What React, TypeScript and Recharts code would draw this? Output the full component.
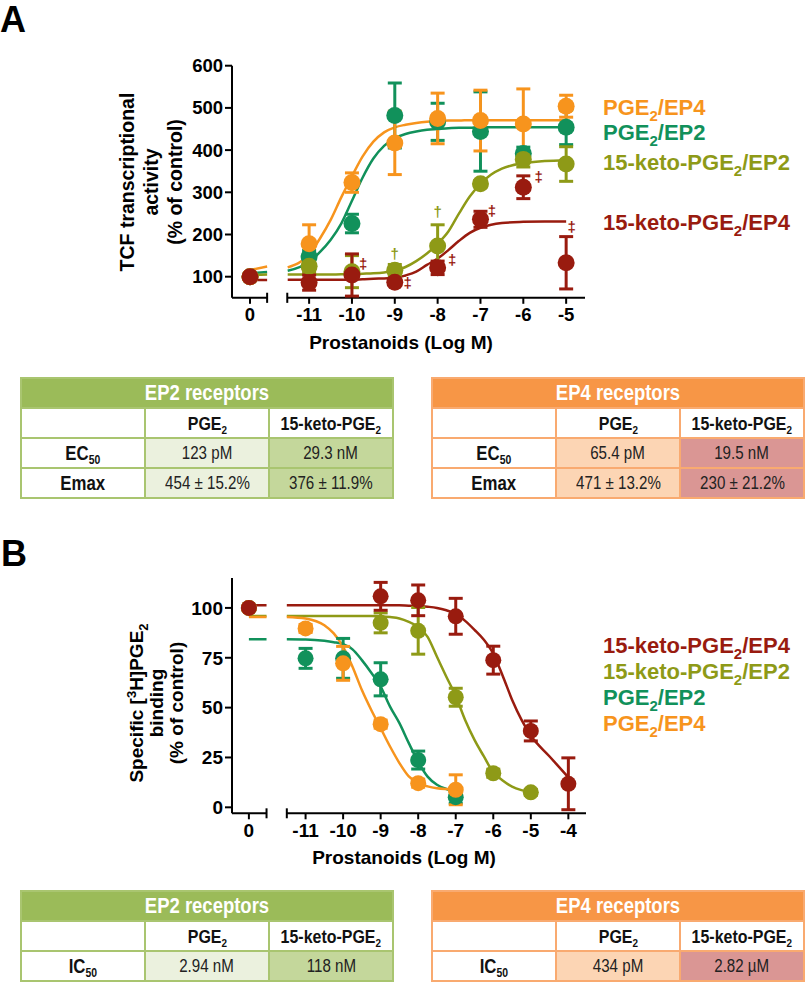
import React from "react";
import { ComposedChart, Line, Scatter, XAxis, YAxis, ErrorBar, ReferenceLine } from "recharts";

const FONT = "'Liberation Sans', Arial, Helvetica, sans-serif";

const ORANGE = "#F7941D";
const GREEN = "#11915B";
const OLIVE = "#8E9A17";
const DARKRED = "#991B0F";

// ---------- Panel A: TCF transcriptional activity (% of control) ----------
const dosesA = [0, -11, -10, -9, -8, -7, -6, -5];
const tcfPge2Ep4 = [100, 178, 323, 417, 475, 470, 462, 504];
const tcfPge2Ep4Err = [0, 45, 23, 75, 60, 72, 83, 26];
const tcfPge2Ep2 = [100, 147, 226, 482, 467, 444, 392, 454];
const tcfPge2Ep2Err = [0, 15, 22, 77, 44, 94, 15, 41];
const tcfKetoEp2 = [100, 125, 112, 115, 173, 320, 378, 367];
const tcfKetoEp2Err = [0, 15, 38, 14, 50, 8, 18, 41];
const tcfKetoEp4 = [100, 86, 104, 87, 121, 236, 312, 133];
const tcfKetoEp4Err = [0, 18, 50, 6, 16, 19, 27, 62];

// fitted curves; ctl = piece left of the axis break
const fitXA = [-11.5, -11, -10.75, -10.5, -10.25, -10, -9.75, -9.5, -9.25, -9, -8.75, -8.5, -8.25, -8, -7.75, -7.5, -7.25, -7, -6.75, -6.5, -6, -5.5, -5];
const fitPge2Ep4A = [122, 153, 190, 234, 288, 338, 385, 420, 442, 454, 460, 464, 467, 469, 470, 470, 471, 471, 471, 471, 471, 471, 471];
const fitPge2Ep2A = [114, 135, 158, 187, 226, 280, 335, 380, 410, 428, 438, 444, 448, 450, 452, 453, 453, 454, 454, 454, 454, 454, 454];
const fitKetoEp2A = [105, 105, 105, 105, 106, 106, 107, 108, 110, 114, 123, 137, 155, 178, 207, 250, 290, 320, 342, 356, 369, 374, 376];
const fitKetoEp4A = [93, 93, 93, 93, 93, 93, 94, 95, 96, 97, 103, 112, 128, 143, 163, 185, 204, 216, 223, 227, 230, 231, 231];
const ctlPge2Ep4A = [116, 124];
const ctlPge2Ep2A = [108, 111];
const ctlKetoEp2A = [104, 105];
const ctlKetoEp4A = [92, 92];

// significance marks
const ddaggerAX = [-9.74, -8.7, -7.66, -6.73, -5.64, -4.87];
const ddaggerAY = [132, 87, 140, 258, 337, 220];
const daggerAX = [-9, -8];
const daggerAY = [156, 254];

// ---------- Panel B: specific [3H]PGE2 binding (% of control) ----------
const bindPge2Ep4Doses = [0, -11, -10, -9, -8, -7];
const bindPge2Ep4 = [100, 89.7, 72.2, 41.7, 12.1, 8.8];
const bindPge2Ep4Err = [0, 2, 8.5, 2, 2, 7.5];
const bindPge2Ep2Doses = [0, -11, -10, -9, -8, -7];
const bindPge2Ep2 = [100, 74.7, 74.7, 64.2, 23.7, 5.1];
const bindPge2Ep2Err = [0, 5, 10, 8.3, 4.5, 3];
const bindKetoEp2Doses = [0, -9, -8, -7, -6, -5];
const bindKetoEp2 = [100, 92.5, 88.5, 55.2, 17.1, 7.5];
const bindKetoEp2Err = [0, 5, 11.7, 4.5, 2, 1.5];
const bindKetoEp4Doses = [0, -9, -8, -7, -6, -5, -4];
const bindKetoEp4 = [100, 105.8, 103.8, 95.8, 73.8, 38.3, 11.8];
const bindKetoEp4Err = [0, 7, 7.7, 9, 7, 5, 13];

const fitXB = [-11.5, -11, -10.5, -10.25, -10, -9.75, -9.5, -9.25, -9, -8.75, -8.5, -8.25, -8, -7.75, -7.5, -7.25, -7, -6.75, -6.5, -6.25, -6, -5.75, -5.5, -5.25, -5, -4.5, -4];
const fitPge2Ep4B = [95.5, 94.7, 91.3, 87.2, 80.5, 70.5, 58.8, 48.8, 39.7, 30.5, 22.2, 15.5, 12.1, 10.5, 9.6, 9.2, 9, null, null, null, null, null, null, null, null, null, null];
const fitPge2Ep2B = [84.3, 84.2, 83.5, 82.8, 81.8, 79.2, 73.8, 67.5, 60.5, 50.5, 42.2, 32.2, 22.8, 15.4, 11.3, 9.2, 8, null, null, null, null, null, null, null, null, null, null];
const fitKetoEp2B = [96, 96, 96, 96, 96, 96, 96, 96, 95.8, 95.4, 94.7, 93, 90.5, 85.5, 75.5, 65.5, 55.8, 43.8, 33.8, 25.5, 17.5, 13.5, 10.4, 8.6, 7.5, null, null];
const fitKetoEp4B = [101.3, 101.3, 101.3, 101.3, 101.3, 101.3, 101.3, 101.3, 101.3, 101.3, 101.3, 101.1, 101, 100.6, 100, 98.8, 97, 93.5, 89, 84, 77, 66, 54, 44, 36, 25.5, 15];
const ctlPge2Ep4B = [95.5, 95.5];
const ctlPge2Ep2B = [84.3, 84.3];
const ctlKetoEp2B = [96, 96];
const ctlKetoEp4B = [101.3, 101.3];

// ---------- tables ----------
const colHeads = ["PGE2", "15-keto-PGE2"];
const ep2Ec50 = ["123 pM", "29.3 nM"];
const ep2Emax = ["454 ± 15.2%", "376 ± 11.9%"];
const ep4Ec50 = ["65.4 pM", "19.5 nM"];
const ep4Emax = ["471 ± 13.2%", "230 ± 21.2%"];
const ep2Ic50 = ["2.94 nM", "118 nM"];
const ep4Ic50 = ["434 pM", "2.82 µM"];

const legendA = ["PGE2/EP4", "PGE2/EP2", "15-keto-PGE2/EP2", "15-keto-PGE2/EP4"];
const legendAColors = [ORANGE, GREEN, OLIVE, DARKRED];
const legendB = ["15-keto-PGE2/EP4", "15-keto-PGE2/EP2", "PGE2/EP2", "PGE2/EP4"];
const legendBColors = [DARKRED, OLIVE, GREEN, ORANGE];

type Axis = {
  min: number; zero: number; breakL: number; breakR: number; max: number;
  yMin: number; yMax: number; yTicks: number[]; xTicks: number[]; cap: number;
};
type Series = { color: string; doses: number[]; mean: number[]; err: number[] };
type Curve = { color: string; ctl: number[]; xs: number[]; ys: (number | null)[] };
type Marks = { color: string; text: string; xs: number[]; ys: number[] };

const AXIS_A: Axis = {
  min: -12.8, zero: -12.38, breakL: -11.98, breakR: -11.51, max: -4.56,
  yMin: 50, yMax: 600, yTicks: [100, 200, 300, 400, 500, 600], xTicks: [-11, -10, -9, -8, -7, -6, -5], cap: 12,
};
const AXIS_B: Axis = {
  min: -12.96, zero: -12.51, breakL: -12.04, breakR: -11.5, max: -3.53,
  yMin: -3, yMax: 115, yTicks: [0, 25, 50, 75, 100], xTicks: [-11, -10, -9, -8, -7, -6, -5, -4], cap: 2.5,
};

function DosePanel(props: {
  ax: Axis; top: number; height: number; mTop: number; mBottom: number; mRight: number;
  series: Series[]; curves: Curve[]; marks: Marks[]; dotR: number; tickFont: number;
}) {
  const { ax } = props;
  const tickStyle = { fill: "#000", fontSize: props.tickFont, fontWeight: 700, fontFamily: FONT };
  const axisStroke = { stroke: "#000", strokeWidth: 2 };
  const pts = (s: Series) => s.doses.map((d, i) => ({ x: d === 0 ? ax.zero : d, y: s.mean[i], err: s.err[i] }));
  const fit = (c: Curve) => [
    { x: ax.zero, y: c.ctl[0] },
    { x: ax.breakL, y: c.ctl[1] },
    { x: (ax.breakL + ax.breakR) / 2, y: null },
    ...c.xs.map((x, i) => ({ x, y: c.ys[i] })),
  ];
  return (
    <div style={{ position: "absolute", left: 0, top: props.top }}>
      <ComposedChart width={805} height={props.height}
        margin={{ top: props.mTop, right: props.mRight, bottom: props.mBottom, left: 182 }}>
        <XAxis type="number" dataKey="x" domain={[ax.min, ax.max]} allowDataOverflow
          ticks={[ax.zero, ...ax.xTicks]} interval={0}
          tickFormatter={(v: number) => (v === ax.zero ? "0" : String(v))}
          axisLine={false} tickLine={axisStroke} tickSize={6} tickMargin={4} tick={tickStyle} height={50} />
        <YAxis type="number" dataKey="y" domain={[ax.yMin, ax.yMax]} allowDataOverflow
          ticks={ax.yTicks} interval={0} axisLine={axisStroke} tickLine={axisStroke}
          tickSize={7} tickMargin={2} tick={tickStyle} width={50} />
        <ReferenceLine segment={[{ x: ax.min, y: ax.yMin }, { x: ax.breakL, y: ax.yMin }]} stroke="#000" strokeWidth={2} ifOverflow="visible" />
        <ReferenceLine segment={[{ x: ax.breakR, y: ax.yMin }, { x: ax.max, y: ax.yMin }]} stroke="#000" strokeWidth={2} ifOverflow="visible" />
        <ReferenceLine segment={[{ x: ax.breakL, y: ax.yMin - ax.cap }, { x: ax.breakL, y: ax.yMin + ax.cap }]} stroke="#000" strokeWidth={2} ifOverflow="visible" />
        <ReferenceLine segment={[{ x: ax.breakR, y: ax.yMin - ax.cap }, { x: ax.breakR, y: ax.yMin + ax.cap }]} stroke="#000" strokeWidth={2} ifOverflow="visible" />
        {props.curves.map((c, i) => (
          <Line key={"c" + i} data={fit(c)} dataKey="y" type="monotone" stroke={c.color} strokeWidth={2.5}
            dot={false} activeDot={false} connectNulls={false} isAnimationActive={false} />
        ))}
        {props.series.map((s, i) => (
          <Scatter key={"s" + i} data={pts(s)} dataKey="y" fill={s.color} isAnimationActive={false}
            shape={(p: any) => <circle cx={p.cx} cy={p.cy} r={props.dotR} fill={s.color} />}>
            <ErrorBar dataKey="err" direction="y" width={7} stroke={s.color} strokeWidth={3} />
          </Scatter>
        ))}
        {props.marks.map((m, i) => (
          <Scatter key={"m" + i} data={m.xs.map((x, j) => ({ x, y: m.ys[j] }))} dataKey="y" isAnimationActive={false}
            shape={(p: any) => (
              <text x={p.cx} y={p.cy} textAnchor="middle" dominantBaseline="central" fill={m.color}
                fontSize={15} fontWeight={700} fontFamily={FONT}>{m.text}</text>
            )} />
        ))}
      </ComposedChart>
    </div>
  );
}

// "PGE2" -> PGE<sub>2</sub>, "EC50" -> EC<sub>50</sub>
function chem(s: string) {
  const m = s.match(/^(.*?(?:PGE|EC|IC))(\d+)$/);
  if (!m) return s;
  return (
    <span>
      {m[1]}
      <sub style={{ fontSize: "0.62em", verticalAlign: "-0.3em", lineHeight: 0 }}>{m[2]}</sub>
    </span>
  );
}

function ReceptorTable(props: {
  left: number; top: number; title: string; head: string; border: string; fills: string[];
  rows: { label: string; values: string[] }[];
}) {
  const cell: React.CSSProperties = {
    display: "flex", alignItems: "center", justifyContent: "center", background: "#fff",
    fontFamily: FONT, color: "#111", lineHeight: 1,
  };
  const narrow = (content: React.ReactNode) => (
    <span style={{ display: "inline-block", transform: "scaleX(0.84)", whiteSpace: "nowrap" }}>{content}</span>
  );
  return (
    <div style={{
      position: "absolute", left: props.left, top: props.top, width: 374, boxSizing: "border-box",
      display: "grid", gridTemplateColumns: "1fr 1fr 1fr", gridAutoRows: 28, gap: 2, padding: 2,
      background: props.border,
    }}>
      <div style={{ ...cell, gridColumn: "1 / 4", background: props.head, color: "#fff", fontWeight: 700, fontSize: 22 }}>
        {narrow(props.title)}
      </div>
      <div style={cell} />
      {colHeads.map((h) => (
        <div key={h} style={{ ...cell, fontWeight: 700, fontSize: 19 }}>{narrow(chem(h))}</div>
      ))}
      {props.rows.map((r) => (
        <React.Fragment key={r.label}>
          <div style={{ ...cell, fontWeight: 700, fontSize: 20 }}>{narrow(chem(r.label))}</div>
          {r.values.map((v, i) => (
            <div key={i} style={{ ...cell, background: props.fills[i], fontSize: 18, color: "#222" }}>{narrow(v)}</div>
          ))}
        </React.Fragment>
      ))}
    </div>
  );
}

function LegendLabel({ x, y, text, color }: { x: number; y: number; text: string; color: string }) {
  const [pre, post] = text.split("PGE2");
  return (
    <text x={x} y={y} fill={color} fontSize={22} fontWeight={700} fontFamily={FONT}>
      {pre}PGE
      <tspan dy={6} fontSize={15}>2</tspan>
      <tspan dy={-6}>{post}</tspan>
    </text>
  );
}

export default function App() {
  const seriesA: Series[] = [
    { color: GREEN, doses: dosesA, mean: tcfPge2Ep2, err: tcfPge2Ep2Err },
    { color: OLIVE, doses: dosesA, mean: tcfKetoEp2, err: tcfKetoEp2Err },
    { color: ORANGE, doses: dosesA, mean: tcfPge2Ep4, err: tcfPge2Ep4Err },
    { color: DARKRED, doses: dosesA, mean: tcfKetoEp4, err: tcfKetoEp4Err },
  ];
  const curvesA: Curve[] = [
    { color: GREEN, ctl: ctlPge2Ep2A, xs: fitXA, ys: fitPge2Ep2A },
    { color: OLIVE, ctl: ctlKetoEp2A, xs: fitXA, ys: fitKetoEp2A },
    { color: ORANGE, ctl: ctlPge2Ep4A, xs: fitXA, ys: fitPge2Ep4A },
    { color: DARKRED, ctl: ctlKetoEp4A, xs: fitXA, ys: fitKetoEp4A },
  ];
  const marksA: Marks[] = [
    { color: DARKRED, text: "‡", xs: ddaggerAX, ys: ddaggerAY },
    { color: OLIVE, text: "†", xs: daggerAX, ys: daggerAY },
  ];
  const seriesB: Series[] = [
    { color: GREEN, doses: bindPge2Ep2Doses, mean: bindPge2Ep2, err: bindPge2Ep2Err },
    { color: OLIVE, doses: bindKetoEp2Doses, mean: bindKetoEp2, err: bindKetoEp2Err },
    { color: ORANGE, doses: bindPge2Ep4Doses, mean: bindPge2Ep4, err: bindPge2Ep4Err },
    { color: DARKRED, doses: bindKetoEp4Doses, mean: bindKetoEp4, err: bindKetoEp4Err },
  ];
  const curvesB: Curve[] = [
    { color: GREEN, ctl: ctlPge2Ep2B, xs: fitXB, ys: fitPge2Ep2B },
    { color: OLIVE, ctl: ctlKetoEp2B, xs: fitXB, ys: fitKetoEp2B },
    { color: ORANGE, ctl: ctlPge2Ep4B, xs: fitXB, ys: fitPge2Ep4B },
    { color: DARKRED, ctl: ctlKetoEp4B, xs: fitXB, ys: fitKetoEp4B },
  ];

  return (
    <div style={{ position: "absolute", left: 0, top: 0, width: 805, height: 982, background: "#fff", overflow: "hidden" }}>
      <DosePanel ax={AXIS_A} top={0} height={370} mTop={65.7} mBottom={22.2} mRight={220}
        series={seriesA} curves={curvesA} marks={marksA} dotR={8.5} tickFont={18.5} />
      <DosePanel ax={AXIS_B} top={500} height={380} mTop={78} mBottom={16.7} mRight={219}
        series={seriesB} curves={curvesB} marks={[]} dotR={8} tickFont={19} />

      <svg width={805} height={982} style={{ position: "absolute", left: 0, top: 0, pointerEvents: "none" }}>
        <text x={0} y={32} fontSize={36} fontWeight={700} fontFamily={FONT}>A</text>
        <text x={1} y={566} fontSize={36} fontWeight={700} fontFamily={FONT}>B</text>

        <text transform="translate(134,182) rotate(-90)" textAnchor="middle" fontSize={19.5} fontWeight={700} fontFamily={FONT}>
          <tspan x={0} dy={0}>TCF transcriptional</tspan>
          <tspan x={0} dy={24}>activity</tspan>
          <tspan x={0} dy={24}>(% of control)</tspan>
        </text>
        <text transform="translate(143,703) rotate(-90)" textAnchor="middle" fontSize={19} fontWeight={700} fontFamily={FONT}>
          <tspan x={0} dy={0}>Specific [</tspan>
          <tspan dy={-7} fontSize={13}>3</tspan>
          <tspan dy={7}>H]PGE</tspan>
          <tspan dy={5} fontSize={13}>2</tspan>
          <tspan x={0} dy={15}>binding</tspan>
          <tspan x={0} dy={20}>(% of control)</tspan>
        </text>

        <text x={401} y={349} textAnchor="middle" fontSize={19} fontWeight={700} fontFamily={FONT}>Prostanoids (Log M)</text>
        <text x={404} y={864} textAnchor="middle" fontSize={19} fontWeight={700} fontFamily={FONT}>Prostanoids (Log M)</text>

        {legendA.map((t, i) => (
          <LegendLabel key={t} x={603} y={[115, 140, 170, 230][i]} text={t} color={legendAColors[i]} />
        ))}
        {legendB.map((t, i) => (
          <LegendLabel key={t} x={603} y={653 + i * 26} text={t} color={legendBColors[i]} />
        ))}
      </svg>

      <ReceptorTable left={20} top={377} title="EP2 receptors" head="#9BBB59" border="#A9C570"
        fills={["#EBF1DE", "#C4D79B"]} rows={[{ label: "EC50", values: ep2Ec50 }, { label: "Emax", values: ep2Emax }]} />
      <ReceptorTable left={431} top={377} title="EP4 receptors" head="#F79646" border="#F9AA70"
        fills={["#FCD5B4", "#DA9694"]} rows={[{ label: "EC50", values: ep4Ec50 }, { label: "Emax", values: ep4Emax }]} />
      <ReceptorTable left={20} top={890} title="EP2 receptors" head="#9BBB59" border="#A9C570"
        fills={["#EBF1DE", "#C4D79B"]} rows={[{ label: "IC50", values: ep2Ic50 }]} />
      <ReceptorTable left={431} top={890} title="EP4 receptors" head="#F79646" border="#F9AA70"
        fills={["#FCD5B4", "#DA9694"]} rows={[{ label: "IC50", values: ep4Ic50 }]} />
    </div>
  );
}
